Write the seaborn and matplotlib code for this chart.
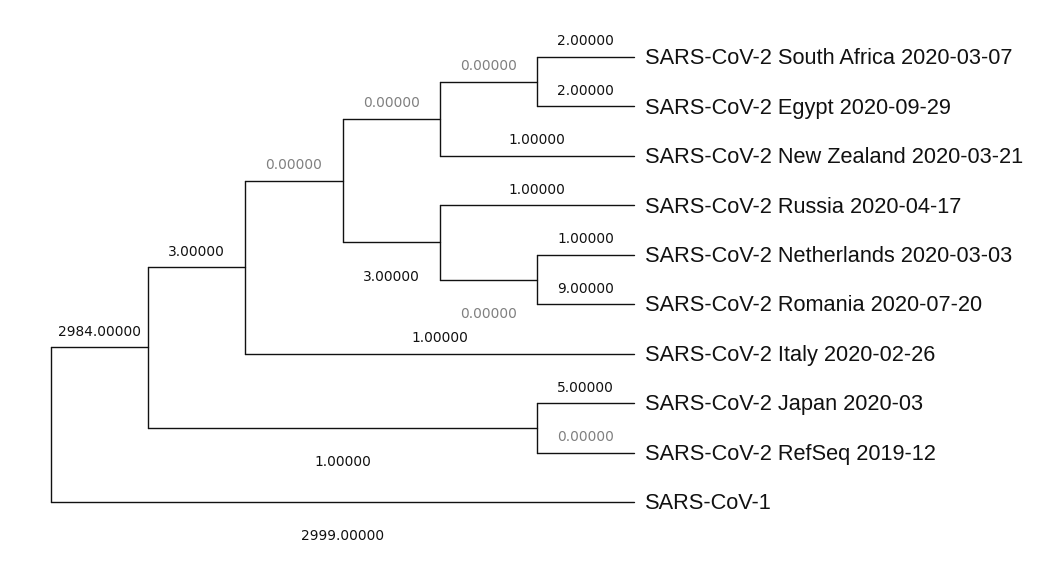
import matplotlib
matplotlib.use("Agg")
import matplotlib.pyplot as plt
import seaborn as sns
import pandas as pd

# ---- tree data ----
internal_nodes = ["root", "n1", "n2", "n3", "n4", "n5", "n6", "n7", "n8"]
internal_parents = [None, "root", "n1", "n2", "n3", "n4", "n3", "n6", "n1"]
internal_lengths = [None, 2984.0, 3.0, 0.0, 0.0, 0.0, 3.0, 0.0, 1.0]

leaf_labels = [
    "SARS-CoV-2 South Africa 2020-03-07",
    "SARS-CoV-2 Egypt 2020-09-29",
    "SARS-CoV-2 New Zealand 2020-03-21",
    "SARS-CoV-2 Russia 2020-04-17",
    "SARS-CoV-2 Netherlands 2020-03-03",
    "SARS-CoV-2 Romania 2020-07-20",
    "SARS-CoV-2 Italy 2020-02-26",
    "SARS-CoV-2 Japan 2020-03",
    "SARS-CoV-2 RefSeq 2019-12",
    "SARS-CoV-1",
]
leaf_parents = ["n5", "n5", "n4", "n6", "n7", "n7", "n2", "n8", "n8", "root"]
leaf_lengths = [2.0, 2.0, 1.0, 1.0, 1.0, 9.0, 1.0, 5.0, 0.0, 2999.0]

# branches whose length label sits below the branch (display style)
labels_below = {"n6", "n7", "n8", "SARS-CoV-1"}

# ---- build tree structure ----
parent = {}
length = {}
for n, p, l in zip(internal_nodes, internal_parents, internal_lengths):
    parent[n] = p
    length[n] = l
for n, p, l in zip(leaf_labels, leaf_parents, leaf_lengths):
    parent[n] = p
    length[n] = l

children = {n: [] for n in internal_nodes}
for n in leaf_labels:
    children[parent[n]].append(n)
for n in internal_nodes[1:]:
    children[parent[n]].append(n)

# y: leaves in order; internal = midpoint of extreme children
ypos = {n: i for i, n in enumerate(leaf_labels)}
height = {n: 0 for n in leaf_labels}


def layout(n):
    if n in ypos:
        return ypos[n], height[n]
    ys, hs = [], []
    for c in children[n]:
        y, h = layout(c)
        ys.append(y)
        hs.append(h)
    ypos[n] = (min(ys) + max(ys)) / 2
    height[n] = max(hs) + 1
    return ypos[n], height[n]


layout("root")
max_h = height["root"]
xpos = {n: max_h - height[n] for n in ypos}

# segments
rows = []
seg = 0
for n in internal_nodes:
    ys = [ypos[c] for c in children[n]]
    rows.append((seg, xpos[n], min(ys)))
    rows.append((seg, xpos[n], max(ys)))
    seg += 1
for n in list(internal_nodes[1:]) + leaf_labels:
    p = parent[n]
    rows.append((seg, xpos[p], ypos[n]))
    rows.append((seg, xpos[n], ypos[n]))
    seg += 1
df = pd.DataFrame(rows, columns=["seg", "x", "y"])

# ---- draw ----
sns.set_style("white")
fig = plt.figure(figsize=(10.48, 5.61), dpi=100)
ax = fig.add_axes([0, 0, 1, 1])
sns.lineplot(data=df, x="x", y="y", units="seg", estimator=None, sort=False,
             color="#111111", linewidth=1.0, ax=ax, legend=False)

px_x = (634 - 51) / max_h
px_y = (502 - 57) / (len(leaf_labels) - 1)
ax.set_xlim(-51 / px_x, (1048 - 51) / px_x)
ax.set_ylim((561 - 57) / px_y, -57 / px_y)
ax.set_axis_off()

for n in leaf_labels:
    ax.annotate(n, (xpos[n], ypos[n]), xytext=(8, -5.2), textcoords="offset points",
                ha="left", va="baseline", fontsize=15.65, family="Liberation Sans",
                color="#111111")

for n in list(internal_nodes[1:]) + leaf_labels:
    p = parent[n]
    xm = (xpos[p] + xpos[n]) / 2
    col = "#808080" if length[n] == 0 else "#111111"
    dy = -27.7 if n in labels_below else 8.3
    ax.annotate(f"{length[n]:.5f}", (xm, ypos[n]), xytext=(0, dy),
                textcoords="offset points", ha="center", va="baseline",
                fontsize=9.9, family="DejaVu Sans", color=col)

fig.savefig("out.png", dpi=100, facecolor="white")
